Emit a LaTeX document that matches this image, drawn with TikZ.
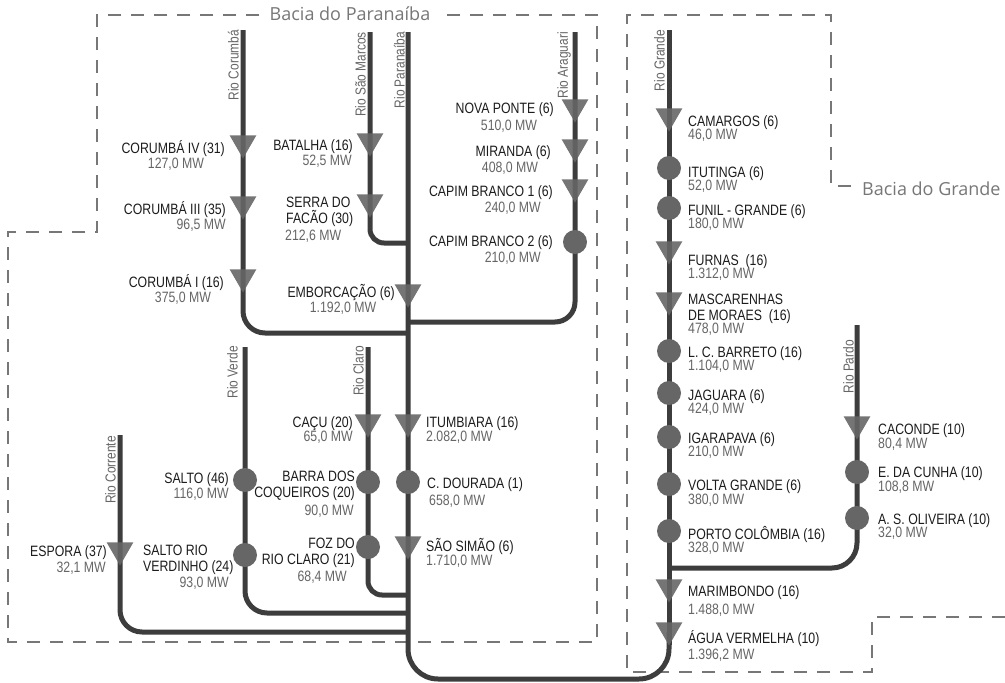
\documentclass[tikz,border=0pt]{standalone}
\usepackage{fontspec}
\setmainfont{Liberation Sans}[FakeStretch=0.82]
\newfontfamily\basinfont{Open Sans}
\usetikzlibrary{shapes.geometric}
\definecolor{riverdark}{HTML}{3D3D3D}
\definecolor{markgray}{HTML}{666666}
\definecolor{valgray}{HTML}{666666}
\definecolor{namedark}{HTML}{1C1C1C}
\definecolor{basingray}{HTML}{777777}
\tikzset{
  river/.style={draw=riverdark,line width=5pt,rounded corners=#1},
  river/.default=22pt,
  reservoir/.style={regular polygon,regular polygon sides=3,shape border rotate=180,
    fill=markgray,fill opacity=0.9,minimum size=31pt,inner sep=0pt},
  runriver/.style={circle,fill=markgray,minimum size=24pt,inner sep=0pt},
  plant/.style={font=\fontsize{15}{15.5}\selectfont,text=namedark,inner sep=0pt},
  power/.style={font=\fontsize{15}{15.5}\selectfont,text=valgray,inner sep=0pt},
  rivername/.style={font=\fontsize{14.5}{14.5}\selectfont,text=valgray,rotate=90,
    anchor=south east,inner sep=0pt},
  basin/.style={draw=basingray,line width=2pt,dash pattern=on 13pt off 10pt},
  basintitle/.style={font=\basinfont\fontsize{18}{18}\selectfont,text=basingray,inner sep=0pt}
}
\begin{document}
\begin{tikzpicture}[x=1pt,y=-1pt]
  \useasboundingbox[fill=white] (0,0) rectangle (1005,683);
  % Basin borders
  \draw[basin] (259,15) -- (97,15) -- (97,232) -- (8,232) -- (8,642)
    -- (597,642) -- (597,15) -- (440,15);
  \node[basintitle] (tParanaiba) at (350,14) {Bacia do Paranaíba};
  \draw[basin] (1005,617) -- (872,617) -- (872,672) -- (627,672) -- (627,15)
    -- (831,15) -- (831,186) -- (856,186);
  \node[basintitle,anchor=west] (tGrande) at (862,189) {Bacia do Grande};
  % River sources and junctions
  \coordinate (srcCor) at (243,30);   \coordinate (jCor) at (408,333);
  \coordinate (srcSMa) at (370,32);   \coordinate (jSMa) at (408,243);
  \coordinate (srcAra) at (575,32);   \coordinate (jAra) at (408,322);
  \coordinate (srcPrn) at (408,32);   \coordinate (jPrn) at (669,632);
  \coordinate (srcVer) at (245,347);  \coordinate (jVer) at (408,613);
  \coordinate (srcCla) at (368,347);  \coordinate (jCla) at (408,595);
  \coordinate (srcCrr) at (120,435);  \coordinate (jCrr) at (408,632);
  \coordinate (srcGra) at (669,30);   \coordinate (mouthGra) at (669,645);
  \coordinate (srcPar) at (857,325);  \coordinate (jPar) at (669,568);
  % Rivers
  \draw[river] (srcCor) |- (jCor);
  \draw[river=14pt] (srcSMa) |- (jSMa);
  \draw[river=20pt] (srcAra) |- (jAra);
  \draw[river=30pt] (srcPrn) -- (408,679) -- (669,679) -- (jPrn);
  \draw[river] (srcVer) |- (jVer);
  \draw[river=14pt] (srcCla) |- (jCla);
  \draw[river] (srcCrr) |- (jCrr);
  \draw[river] (srcGra) -- (mouthGra);
  \draw[river=25pt] (srcPar) |- (jPar);
  % River names
  \node[rivername] (rCor) at (239,30) {Rio Corumbá};
  \node[rivername] (rSMa) at (366,32) {Rio São Marcos};
  \node[rivername] (rPrn) at (405,32) {Rio Paranaíba};
  \node[rivername] (rAra) at (571,32) {Rio Araguari};
  \node[rivername] (rGra) at (665,30) {Rio Grande};
  \node[rivername] (rPar) at (854,340) {Rio Pardo};
  \node[rivername] (rVer) at (238,346) {Rio Verde};
  \node[rivername] (rCla) at (364,346) {Rio Claro};
  \node[rivername] (rCrr) at (116,436) {Rio Corrente};
  % Rio Corumba
  \node[reservoir] (corIV) at (243,143) {};
  \node[plant,anchor=base east] (corIVn) at (225,153) {CORUMBÁ IV (31)};
  \node[power,anchor=base] (corIVv) at (176,168) {127,0 MW};
  \node[reservoir] (corIII) at (243,204) {};
  \node[plant,anchor=base east] (corIIIn) at (226,214) {CORUMBÁ III (35)};
  \node[power,anchor=base east] (corIIIv) at (226,229) {96,5 MW};
  \node[reservoir] (corI) at (243,277) {};
  \node[plant,anchor=base east] (corIn) at (224,287) {CORUMBÁ I (16)};
  \node[power,anchor=base] (corIv) at (183,302) {375,0 MW};
  % Rio Sao Marcos
  \node[reservoir] (bat) at (370,141) {};
  \node[plant,anchor=base east] (batn) at (353,150) {BATALHA (16)};
  \node[power,anchor=base east] (batv) at (352,165) {52,5 MW};
  \node[reservoir] (sdf) at (370,202) {};
  \node[plant,anchor=base west,align=left] (sdfn) at (286,223) {SERRA DO\\FACÃO (30)};
  \node[power,anchor=base west] (sdfv) at (285,240) {212,6 MW};
  % Rio Paranaiba
  \node[reservoir] (emb) at (408,292) {};
  \node[plant,anchor=base east] (embn) at (395,297) {EMBORCAÇÃO (6)};
  \node[power,anchor=base] (embv) at (343,312) {1.192,0 MW};
  \node[reservoir] (itu) at (408,422) {};
  \node[plant,anchor=base west] (itun) at (426,427) {ITUMBIARA (16)};
  \node[power,anchor=base west] (ituv) at (426,441) {2.082,0 MW};
  \node[runriver] (cdo) at (408,482) {};
  \node[plant,anchor=base west] (cdon) at (427,488) {C. DOURADA (1)};
  \node[power,anchor=base west] (cdov) at (429,505) {658,0 MW};
  \node[reservoir] (ssi) at (408,544) {};
  \node[plant,anchor=base west] (ssin) at (426,551) {SÃO SIMÃO (6)};
  \node[power,anchor=base west] (ssiv) at (426,565) {1.710,0 MW};
  % Rio Araguari
  \node[reservoir] (npo) at (575,107) {};
  \node[plant,anchor=base east] (npon) at (554,113) {NOVA PONTE (6)};
  \node[power,anchor=base] (npov) at (509,130) {510,0 MW};
  \node[reservoir] (mir) at (575,147) {};
  \node[plant,anchor=base east] (mirn) at (551,156) {MIRANDA (6)};
  \node[power,anchor=base] (mirv) at (510,172) {408,0 MW};
  \node[reservoir] (cbI) at (575,187) {};
  \node[plant,anchor=base east] (cbIn) at (553,196) {CAPIM BRANCO 1 (6)};
  \node[power,anchor=base east] (cbIv) at (541,212) {240,0 MW};
  \node[runriver] (cbII) at (575,242) {};
  \node[plant,anchor=base east] (cbIIn) at (553,246) {CAPIM BRANCO 2 (6)};
  \node[power,anchor=base east] (cbIIv) at (541,262) {210,0 MW};
  % Rio Claro
  \node[reservoir] (cac) at (368,422) {};
  \node[plant,anchor=base east] (cacn) at (353,427) {CAÇU (20)};
  \node[power,anchor=base east] (cacv) at (353,441) {65,0 MW};
  \node[runriver] (bco) at (368,482) {};
  \node[plant,anchor=base east,align=right] (bcon) at (355,497) {BARRA DOS\\COQUEIROS (20)};
  \node[power,anchor=base east] (bcov) at (354,515) {90,0 MW};
  \node[runriver] (frc) at (368,547) {};
  \node[plant,anchor=base east,align=right] (frcn) at (355,564) {FOZ DO\\RIO CLARO (21)};
  \node[power,anchor=base east] (frcv) at (347,581) {68,4 MW};
  % Rio Verde
  \node[runriver] (sal) at (245,480) {};
  \node[plant,anchor=base east] (saln) at (229,483) {SALTO (46)};
  \node[power,anchor=base east] (salv) at (229,498) {116,0 MW};
  \node[runriver] (srv) at (245,555) {};
  \node[plant,anchor=base west,align=left] (srvn) at (143,571) {SALTO RIO\\VERDINHO (24)};
  \node[power,anchor=base east] (srvv) at (229,587) {93,0 MW};
  % Rio Corrente
  \node[reservoir] (esp) at (120,550) {};
  \node[plant,anchor=base east] (espn) at (107,556) {ESPORA (37)};
  \node[power,anchor=base east] (espv) at (106,572) {32,1 MW};
  % Rio Grande
  \node[reservoir] (cam) at (669,116) {};
  \node[plant,anchor=base west] (camn) at (688,126) {CAMARGOS (6)};
  \node[power,anchor=base west] (camv) at (688,139) {46,0 MW};
  \node[runriver] (itt) at (669,168) {};
  \node[plant,anchor=base west] (ittn) at (688,177) {ITUTINGA (6)};
  \node[power,anchor=base west] (ittv) at (688,190) {52,0 MW};
  \node[runriver] (fun) at (669,208) {};
  \node[plant,anchor=base west] (funn) at (688,215) {FUNIL - GRANDE (6)};
  \node[power,anchor=base west] (funv) at (688,228) {180,0 MW};
  \node[reservoir] (fur) at (669,249) {};
  \node[plant,anchor=base west] (furn) at (688,265) {FURNAS \ (16)};
  \node[power,anchor=base west] (furv) at (688,278) {1.312,0 MW};
  \node[reservoir] (mas) at (669,300) {};
  \node[plant,anchor=base west,align=left] (masn) at (688,320) {MASCARENHAS\\DE MORAES \ (16)};
  \node[power,anchor=base west] (masv) at (688,333) {478,0 MW};
  \node[runriver] (lcb) at (669,351) {};
  \node[plant,anchor=base west] (lcbn) at (688,357) {L. C. BARRETO (16)};
  \node[power,anchor=base west] (lcbv) at (688,370) {1.104,0 MW};
  \node[runriver] (jag) at (669,393) {};
  \node[plant,anchor=base west] (jagn) at (688,400) {JAGUARA (6)};
  \node[power,anchor=base west] (jagv) at (688,413) {424,0 MW};
  \node[runriver] (iga) at (669,437) {};
  \node[plant,anchor=base west] (igan) at (688,443) {IGARAPAVA (6)};
  \node[power,anchor=base west] (igav) at (688,456) {210,0 MW};
  \node[runriver] (vgr) at (669,484) {};
  \node[plant,anchor=base west] (vgrn) at (688,490) {VOLTA GRANDE (6)};
  \node[power,anchor=base west] (vgrv) at (688,504) {380,0 MW};
  \node[runriver] (pco) at (669,531) {};
  \node[plant,anchor=base west] (pcon) at (688,539) {PORTO COLÔMBIA (16)};
  \node[power,anchor=base west] (pcov) at (688,552) {328,0 MW};
  \node[reservoir] (mar) at (669,587) {};
  \node[plant,anchor=base west] (marn) at (688,596) {MARIMBONDO (16)};
  \node[power,anchor=base west] (marv) at (688,614) {1.488,0 MW};
  \node[reservoir] (agv) at (669,630) {};
  \node[plant,anchor=base west] (agvn) at (688,643) {ÁGUA VERMELHA (10)};
  \node[power,anchor=base west] (agvv) at (688,659) {1.396,2 MW};
  % Rio Pardo
  \node[reservoir] (cad) at (857,424) {};
  \node[plant,anchor=base west] (cadn) at (878,434) {CACONDE (10)};
  \node[power,anchor=base west] (cadv) at (878,448) {80,4 MW};
  \node[runriver] (edc) at (857,472) {};
  \node[plant,anchor=base west] (edcn) at (878,477) {E. DA CUNHA (10)};
  \node[power,anchor=base west] (edcv) at (878,491) {108,8 MW};
  \node[runriver] (aso) at (857,518) {};
  \node[plant,anchor=base west] (ason) at (878,524) {A. S. OLIVEIRA (10)};
  \node[power,anchor=base west] (asov) at (878,537) {32,0 MW};
\end{tikzpicture}
\end{document}
